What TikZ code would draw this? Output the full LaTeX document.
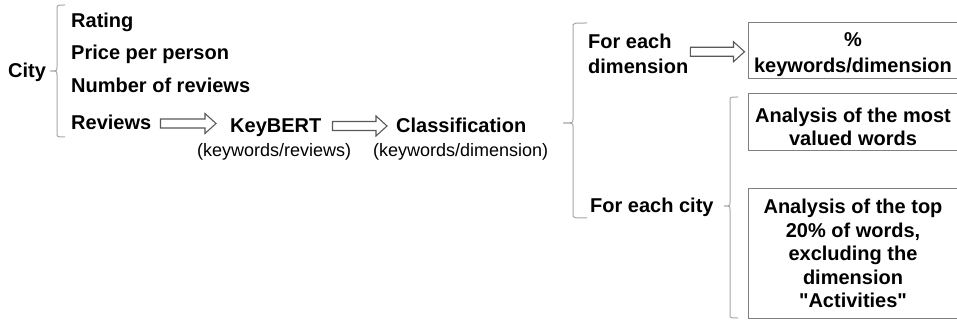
\documentclass[tikz,border=0pt]{standalone}
\usepackage{fontspec}
\setmainfont{Liberation Sans}[Ligatures=TeXOff]
\usetikzlibrary{calc}

\definecolor{boxgray}{HTML}{7F7F7F}
\definecolor{bracegray}{HTML}{A6A6A6}
\definecolor{arrowgray}{HTML}{595959}

\tikzset{
  lbl/.style={inner sep=0pt, font=\fontsize{20}{24}\selectfont\bfseries, anchor=base west},
  sub/.style={inner sep=0pt, font=\fontsize{18}{22}\selectfont, anchor=base west},
  resultbox/.style={draw=boxgray, line width=1pt, minimum width=210pt, inner sep=0pt},
  boxtext/.style={inner sep=0pt, align=center, font=\fontsize{20}{#1}\selectfont\bfseries},
  bracestyle/.style={draw=bracegray, line width=1pt},
  flowarrow/.style={draw=arrowgray, line width=1.1pt, fill=white, line join=miter},
}

% hollow block arrow from a tail point to the x position of a tip point
\newcommand\hollowarrow[2]{%
  \path[flowarrow] let \p1=(#1), \p2=(#2) in
    (\x1,\y1+4.5pt) -- (\x2-11pt,\y1+4.5pt) -- (\x2-11pt,\y1+10pt) -- (\x2,\y1)
    -- (\x2-11pt,\y1-10pt) -- (\x2-11pt,\y1-4.5pt) -- (\x1,\y1-4.5pt) -- cycle;}

% thin left brace: x, top, middle, bottom, hook length, tip length
\newcommand\sidebrace[6]{%
  \draw[bracestyle] (#1+#5,#2) .. controls (#1,#2) .. (#1,#2+4) -- (#1,#3-4)
    .. controls (#1,#3) .. (#1-#6,#3) .. controls (#1,#3) .. (#1,#3+4)
    -- (#1,#4-4) .. controls (#1,#4) .. (#1+#5,#4);}

\begin{document}
\begin{tikzpicture}[x=1pt, y=-1pt]
\useasboundingbox (0,0) rectangle (957,320);
\clip (0,0) rectangle (957,320);

% city attributes
\node[lbl] (city)   at (8,78)   {City};
\node[lbl] (rating) at (71,28)  {Rating};
\node[lbl] (price)  at (71,60)  {Price per person};
\node[lbl] (nrev)   at (71,93)  {Number of reviews};
\node[lbl] (rev)    at (71,130) {Reviews};
\sidebrace{57}{5}{71}{137}{8}{7}

% keyword extraction and classification
\node[lbl] (kb)     at (230,133) {KeyBERT};
\node[sub] (kbsub)  at (197,157) {(keywords/reviews)};
\node[lbl] (cls)    at (396,133) {Classification};
\node[sub] (clssub) at (373,157) {(keywords/dimension)};
\hollowarrow{$(rev.base east)+(9,-6.5)$}{$(kb.base west)+(-14,0)$}
\hollowarrow{$(kb.base east)+(11,-7)$}{$(cls.base west)+(-9,0)$}

% analyses
\sidebrace{573}{23}{123}{218}{14}{10}
\node[lbl, anchor=north west, align=left, font=\fontsize{20}{25}\selectfont\bfseries] (dim) at (588,33.7) {For each\\dimension};
\node[lbl] (percity) at (590,213) {For each city};
\sidebrace{730}{97}{206}{318}{8}{6}

\node[resultbox, minimum height=56pt] (b1) at (853,51) {};
\node[boxtext=26] (t1) at ($(b1.center)+(0,4)$) {\%\\keywords/dimension};
\node[resultbox, minimum height=57pt] (b2) at (853,122.5) {};
\node[boxtext=23] (t2) at ($(b2.center)+(0,4)$) {Analysis of the most\\valued words};
\node[resultbox, minimum height=129pt] (b3) at (853,253.5) {};
\node[boxtext=23.5] (t3) at (b3.center) {Analysis of the top\\20\% of words,\\excluding the\\dimension\\"Activities"};

\hollowarrow{$(dim.east)+(2,-2)$}{$(b1.west)+(-3,0)$}
\end{tikzpicture}
\end{document}
